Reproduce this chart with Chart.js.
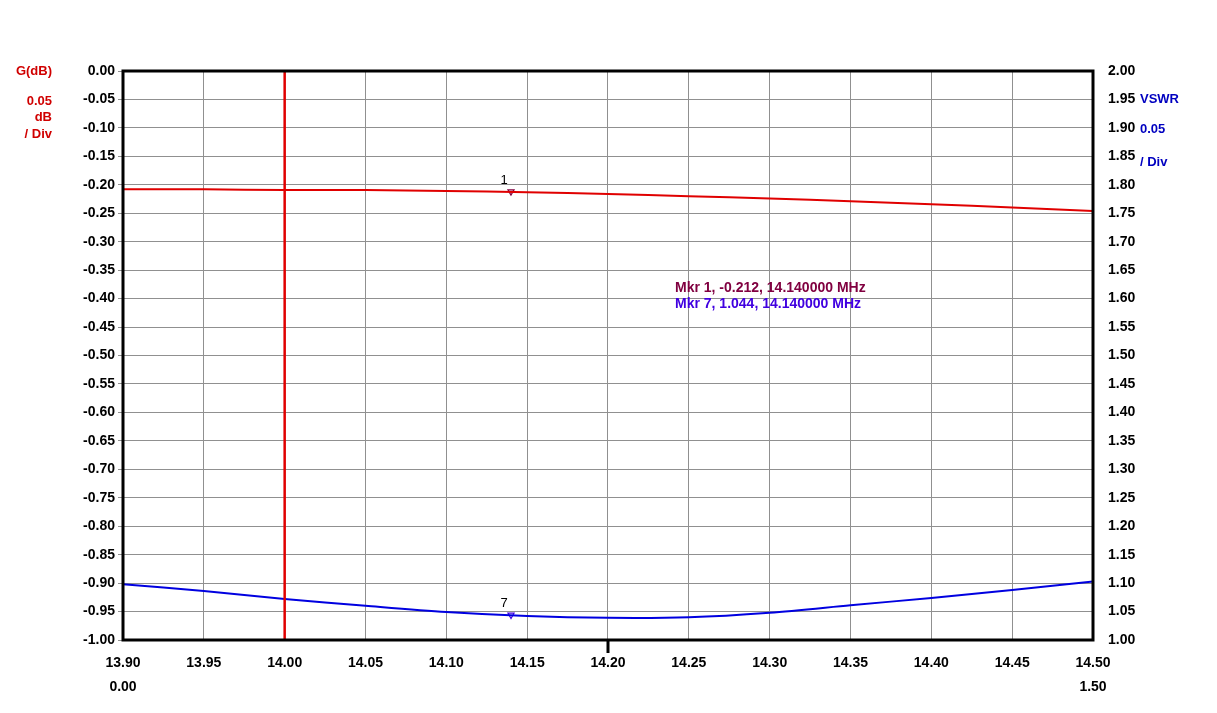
<!DOCTYPE html>
<html><head><meta charset="utf-8">
<script src="https://cdn.jsdelivr.net/npm/chart.js@4/dist/chart.umd.min.js"></script>
<style>html,body{margin:0;padding:0;background:#fff}#wrap{width:1217px;height:713px}</style>
</head><body><div id="wrap"><canvas id="c" width="1217" height="713"></canvas></div>
<script>
const freqs = [13.90,13.95,14.00,14.05,14.10,14.15,14.20,14.25,14.30,14.35,14.40,14.45,14.50];
const gainDb = [-0.208,-0.208,-0.209,-0.209,-0.211,-0.213,-0.216,-0.220,-0.224,-0.229,-0.234,-0.240,-0.246];
const vswr = [1.098,1.086,1.072,1.060,1.049,1.042,1.039,1.040,1.048,1.061,1.074,1.088,1.103];
const xTicks = [13.90,13.95,14.00,14.05,14.10,14.15,14.20,14.25,14.30,14.35,14.40,14.45,14.50];
const leftTicks = [0,-0.05,-0.10,-0.15,-0.20,-0.25,-0.30,-0.35,-0.40,-0.45,-0.50,-0.55,-0.60,-0.65,-0.70,-0.75,-0.80,-0.85,-0.90,-0.95,-1.00];
const rightTicks = [2.00,1.95,1.90,1.85,1.80,1.75,1.70,1.65,1.60,1.55,1.50,1.45,1.40,1.35,1.30,1.25,1.20,1.15,1.10,1.05,1.00];
const cursorFreq = 14.00;
const marker1 = {x:14.14, y:-0.212, label:'1'};
const marker7 = {x:14.14, y:1.044, label:'7'};
const markerTexts = ['Mkr 1, -0.212, 14.140000 MHz','Mkr 7, 1.044, 14.140000 MHz'];

const RED = '#e00000', BLUE = '#0000e0';
const FAM = '"Liberation Sans", Arial, sans-serif';
const FONT = 'bold 13px ' + FAM;

const deco = {
  id:'deco',
  afterDatasetsDraw(chart){
    const ctx = chart.ctx, a = chart.chartArea;
    const xs = chart.scales.x, yl = chart.scales.y, yr = chart.scales.y2;
    ctx.save();
    ctx.strokeStyle = '#000'; ctx.lineWidth = 3;
    ctx.strokeRect(a.left, a.top, a.right - a.left, a.bottom - a.top);
    const cx = xs.getPixelForValue(14.20);
    ctx.beginPath(); ctx.moveTo(cx, a.bottom); ctx.lineTo(cx, a.bottom + 13); ctx.stroke();
    ctx.fillStyle = '#000'; ctx.textAlign = 'center'; ctx.textBaseline = 'alphabetic';
    ctx.font = '13px ' + FAM;
    ctx.fillText(marker1.label, xs.getPixelForValue(marker1.x) - 7, yl.getPixelForValue(marker1.y) - 8);
    ctx.fillText(marker7.label, xs.getPixelForValue(marker7.x) - 7, yr.getPixelForValue(marker7.y) - 8);
    ctx.font = 'bold 14px ' + FAM; ctx.textAlign = 'left';
    ctx.fillStyle = '#800040'; ctx.fillText(markerTexts[0], 675, 292);
    ctx.fillStyle = '#4000e0'; ctx.fillText(markerTexts[1], 675, 308);
    ctx.font = FONT; ctx.fillStyle = '#d00000'; ctx.textAlign = 'right';
    ctx.fillText('G(dB)', 52, 75);
    ctx.fillText('0.05', 52, 105);
    ctx.fillText('dB', 52, 121);
    ctx.fillText('/ Div', 52, 138);
    ctx.fillStyle = '#0000c0'; ctx.textAlign = 'left';
    ctx.fillText('VSWR', 1140, 103);
    ctx.fillText('0.05', 1140, 133);
    ctx.fillText('/ Div', 1140, 166);
    ctx.font = 'bold 14px ' + FAM;
    ctx.fillStyle = '#000'; ctx.textAlign = 'center';
    ctx.fillText('0.00', a.left, 691);
    ctx.fillText('1.50', a.right, 691);
    ctx.restore();
  }
};

const tickFont = {family:FAM, size:14, weight:'bold'};
new Chart(document.getElementById('c'), {
  type:'line',
  data:{
    datasets:[
      {label:'cursor', data:[{x:cursorFreq,y:0},{x:cursorFreq,y:-1}], borderColor:RED, borderWidth:2.5, pointRadius:0, yAxisID:'y'},
      {label:'G(dB)', data:freqs.map((f,i)=>({x:f,y:gainDb[i]})), borderColor:RED, borderWidth:2, pointRadius:0, tension:0.3, yAxisID:'y'},
      {label:'VSWR', data:freqs.map((f,i)=>({x:f,y:vswr[i]})), borderColor:BLUE, borderWidth:2, pointRadius:0, tension:0.3, yAxisID:'y2'},
      {label:'m1', type:'scatter', data:[{x:marker1.x,y:marker1.y}], pointStyle:'triangle', rotation:180, radius:3.5, borderColor:'#800040', borderWidth:1.2, backgroundColor:'#fff', yAxisID:'y'},
      {label:'m7', type:'scatter', data:[{x:marker7.x,y:marker7.y}], pointStyle:'triangle', rotation:180, radius:3.5, borderColor:'#4000e0', borderWidth:1.2, backgroundColor:'#fff', yAxisID:'y2'}
    ]
  },
  options:{
    responsive:false, animation:false, devicePixelRatio:1,
    layout:{padding:{top:71,left:0,right:0,bottom:0}},
    plugins:{legend:{display:false}, tooltip:{enabled:false}},
    scales:{
      x:{type:'linear', min:13.9, max:14.5,
        afterBuildTicks(s){ s.ticks = xTicks.map(v=>({value:v})); },
        afterFit(s){ s.height = 73; },
        grid:{color:'#909090', lineWidth:1, drawTicks:false},
        border:{display:false},
        ticks:{color:'#000', font:tickFont, padding:15, maxRotation:0, autoSkip:false, callback:v=>v.toFixed(2)}
      },
      y:{position:'left', min:-1, max:0,
        afterBuildTicks(s){ s.ticks = leftTicks.map(v=>({value:v})); },
        afterFit(s){ s.width = 123; },
        grid:{color:'#909090', lineWidth:1, drawTicks:true, tickLength:5},
        border:{display:false},
        ticks:{color:'#000', font:tickFont, padding:3, autoSkip:false, callback:v=>v.toFixed(2)}
      },
      y2:{position:'right', min:1, max:2,
        afterBuildTicks(s){ s.ticks = rightTicks.map(v=>({value:v})); },
        afterFit(s){ s.width = 124; },
        grid:{display:false, drawOnChartArea:false},
        border:{display:false},
        ticks:{color:'#000', font:tickFont, padding:7, autoSkip:false, callback:v=>v.toFixed(2)}
      }
    }
  },
  plugins:[deco]
});
</script></body></html>
